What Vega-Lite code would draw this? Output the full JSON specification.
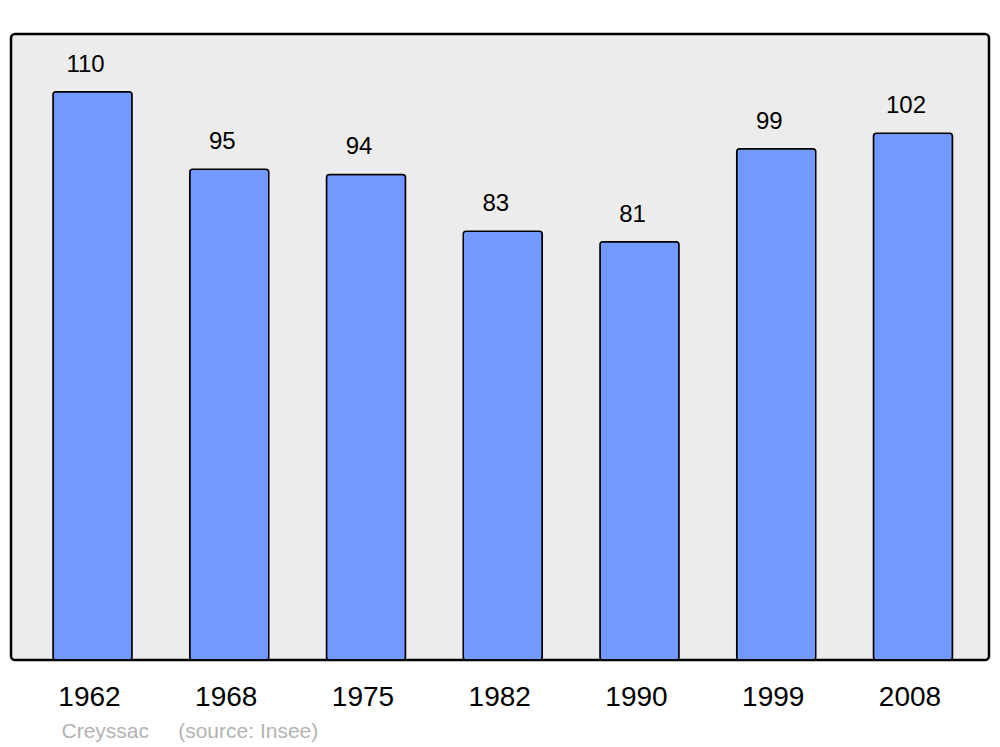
{
  "$schema": "https://vega.github.io/schema/vega-lite/v6.json",
  "width": 978,
  "height": 626,
  "autosize": {"type": "none"},
  "padding": {"left": 11, "top": 34, "right": 11, "bottom": 87},
  "background": "white",
  "config": {
    "view": {"fill": "#ececec", "stroke": "black", "strokeWidth": 2.5, "cornerRadius": 4},
    "font": "Liberation Sans"
  },
  "data": {
    "values": [
      {"year": "1962", "population": 110},
      {"year": "1968", "population": 95},
      {"year": "1975", "population": 94},
      {"year": "1982", "population": 83},
      {"year": "1990", "population": 81},
      {"year": "1999", "population": 99},
      {"year": "2008", "population": 102}
    ]
  },
  "encoding": {
    "x": {
      "field": "year",
      "type": "ordinal",
      "sort": null,
      "scale": {"paddingInner": 0.422, "paddingOuter": 0.287, "align": 0.535},
      "axis": {
        "title": "Creyssac\u00a0\u00a0\u00a0\u00a0\u00a0(source: Insee)",
        "titleFont": "Liberation Sans",
        "titleFontSize": 21,
        "titleFontWeight": "normal",
        "titleColor": "#b3b3b3",
        "titleAnchor": null,
        "titleAlign": "left",
        "titleBaseline": "alphabetic",
        "titleX": 50,
        "titleY": 77,
        "domain": false,
        "ticks": false,
        "tickSize": 0,
        "labelAngle": 0,
        "labelFont": "Liberation Sans",
        "labelFontSize": 28,
        "labelColor": "black",
        "labelBaseline": "alphabetic",
        "labelPadding": 45,
        "labelOffset": -3
      }
    },
    "y": {
      "field": "population",
      "type": "quantitative",
      "scale": {"domain": [0, 121.2], "nice": false, "zero": true},
      "axis": null
    }
  },
  "layer": [
    {
      "mark": {"type": "bar", "fill": "#7299ff", "stroke": "black", "strokeWidth": 1.5, "cornerRadius": 3}
    },
    {
      "mark": {"type": "text", "baseline": "alphabetic", "dy": -20, "dx": -7, "fontSize": 24, "font": "Liberation Sans", "color": "black"},
      "encoding": {"text": {"field": "population", "type": "quantitative"}}
    }
  ]
}
